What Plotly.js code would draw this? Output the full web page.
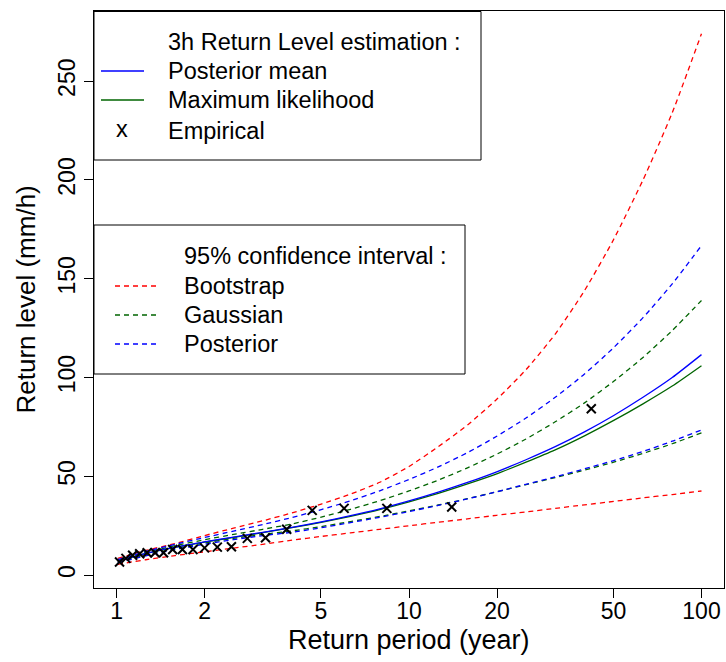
<!DOCTYPE html>
<html>
<head>
<meta charset="utf-8">
<script src="https://cdn.plot.ly/plotly-3.0.1.min.js"></script>
<style>html,body{margin:0;padding:0;background:#fff;}#plot{width:726px;height:662px;}</style>
</head>
<body>
<div id="plot"></div>
<script>
var returnPeriod = [1.01, 1.259, 1.585, 1.995, 2.512, 3.162, 3.981, 5.012, 6.31, 7.943, 10,
                    12.59, 15.85, 19.95, 25.12, 31.62, 39.81, 50.12, 63.1, 79.43, 100];
var posteriorMean  = [7, 11, 14.2, 16.8, 19.3, 21.7, 24.2, 27, 30.1, 33.6, 37.6,
                      42, 46.9, 52.3, 58.4, 65, 72.5, 80.8, 90, 100, 111.6];
var maxLikelihood  = [7, 11, 14.1, 16.7, 19.1, 21.5, 24, 26.7, 29.8, 33.2, 37.1,
                      41.4, 46.2, 51.3, 57.2, 63.4, 70.5, 78.3, 86.7, 95.7, 106];
var bootstrapUpper = [8.5, 12.5, 16, 20, 23.8, 27.5, 31.5, 36, 41, 47, 55,
                      65, 76, 89, 104, 122, 144, 170, 200, 234, 274];
var bootstrapLower = [5.5, 7.8, 9.9, 11.8, 13.7, 15.6, 17.7, 19.6, 21.4, 23.2, 25,
                      26.8, 28.5, 30.3, 32, 33.8, 35.6, 37.3, 39.1, 40.8, 42.6];
var gaussianUpper  = [7.5, 11.5, 14.9, 17.9, 20.6, 23.2, 25.9, 29.4, 33.3, 37.7, 42.6,
                      48.1, 54.3, 61.2, 68.9, 77.6, 87.2, 98.1, 110.2, 123.8, 139];
var gaussianLower  = [6.6, 10.2, 13.4, 16.2, 18.6, 20.6, 22.4, 24.6, 27.1, 29.7, 32.5,
                      35.5, 38.7, 42.2, 45.8, 49.4, 53.2, 57.2, 61.6, 66.5, 72];
var posteriorUpper = [7.8, 12, 15.6, 19, 22.3, 25.6, 29.2, 33.2, 37.6, 42.7, 48.4,
                      54.8, 62, 70.3, 79.5, 90, 101.8, 115.2, 130.3, 147.4, 166.8];
var posteriorLower = [6.3, 9.8, 13, 15.6, 18, 20, 21.7, 24, 26.6, 29.3, 32.2,
                      35.3, 38.6, 42.2, 46, 49.8, 53.8, 58, 62.6, 67.8, 73.5];

// Empirical return levels
var empPeriod = [42, 14, 8.4, 6, 4.667, 3.818, 3.231, 2.8, 2.471, 2.211, 2.0, 1.826, 1.68, 1.556, 1.448, 1.355, 1.273, 1.2, 1.135, 1.077, 1.024];
var empLevel  = [84.2, 34.5, 33.8, 33.8, 32.8, 23.2, 18.9, 18.6, 14.4, 14.2, 13.8, 13.0, 13.0, 13.0, 11.3, 11.3, 11.3, 10.8, 10.1, 8.5, 6.7];

var xTicks = [1, 2, 5, 10, 20, 50, 100];
var xTickText = ['1', '2', '5', '10', '20', '50', '100'];
var yTicks = [0, 50, 100, 150, 200, 250];
var yTickText = ['0', '50', '100', '150', '200', '250'];

var legend1Title = '3h Return Level estimation :';
var legend1Labels = ['Posterior mean', 'Maximum likelihood', 'Empirical'];
var legend2Title = '95% confidence interval :';
var legend2Labels = ['Bootstrap', 'Gaussian', 'Posterior'];

var RED = '#ff0000', BLUE = '#0000ff', GREEN = '#006400';
var FONT = 'Liberation Sans, Arial, Helvetica, sans-serif';
var DASH = '5px,4px';

function curve(y, color, dash) {
  return {x: returnPeriod, y: y, type: 'scatter', mode: 'lines',
    line: {color: color, width: 1.3, dash: dash, shape: 'spline', smoothing: 0.6},
    hoverinfo: 'skip', showlegend: false};
}
var data = [
  curve(bootstrapUpper, RED, DASH),
  curve(bootstrapLower, RED, DASH),
  curve(gaussianUpper, GREEN, DASH),
  curve(gaussianLower, GREEN, DASH),
  curve(posteriorUpper, BLUE, DASH),
  curve(posteriorLower, BLUE, DASH),
  curve(maxLikelihood, GREEN, 'solid'),
  curve(posteriorMean, BLUE, 'solid'),
  {x: empPeriod, y: empLevel, type: 'scatter', mode: 'markers',
   marker: {symbol: 'x-thin', size: 9, color: '#000', line: {color: '#000', width: 2}},
   hoverinfo: 'skip', showlegend: false}
];

// pixel -> paper helpers (plot area: x 94..724, y 11..588)
var L = 94, R = 724, T = 11, B = 588;
function px(x) { return (x - L) / (R - L); }
function py(y) { return (B - y) / (B - T); }

var shapes = [
  {type: 'rect', xref: 'paper', yref: 'paper', x0: px(94), x1: px(481), y0: py(160), y1: py(11.5), line: {color: '#000', width: 1}, fillcolor: 'rgba(0,0,0,0)'},
  {type: 'line', xref: 'paper', yref: 'paper', x0: px(101), x1: px(144), y0: py(71), y1: py(71), line: {color: BLUE, width: 1.3}},
  {type: 'line', xref: 'paper', yref: 'paper', x0: px(101), x1: px(144), y0: py(100), y1: py(100), line: {color: GREEN, width: 1.3}},
  {type: 'rect', xref: 'paper', yref: 'paper', x0: px(94), x1: px(465), y0: py(374), y1: py(225), line: {color: '#000', width: 1}, fillcolor: 'rgba(0,0,0,0)'},
  {type: 'line', xref: 'paper', yref: 'paper', x0: px(115), x1: px(156), y0: py(286), y1: py(286), line: {color: RED, width: 1.3, dash: DASH}},
  {type: 'line', xref: 'paper', yref: 'paper', x0: px(115), x1: px(156), y0: py(315), y1: py(315), line: {color: GREEN, width: 1.3, dash: DASH}},
  {type: 'line', xref: 'paper', yref: 'paper', x0: px(115), x1: px(156), y0: py(344), y1: py(344), line: {color: BLUE, width: 1.3, dash: DASH}}
];

var LF = {family: FONT, size: 23.5, color: '#000'};
function ann(text, x, y, opts) {
  var a = {text: text, xref: 'paper', yref: 'paper', x: px(x), y: py(y), xanchor: 'left', yanchor: 'middle', showarrow: false, font: LF};
  for (var k in opts) a[k] = opts[k];
  return a;
}
var annotations = [
  ann(legend1Title, 166, 42),
  ann(legend1Labels[0], 166, 71),
  ann(legend1Labels[1], 166, 100),
  ann(legend1Labels[2], 166, 131),
  ann('x', 122, 129, {xanchor: 'center'}),
  ann(legend2Title, 182, 256),
  ann(legend2Labels[0], 182, 286),
  ann(legend2Labels[1], 182, 315),
  ann(legend2Labels[2], 182, 344),
  ann('Return period (year)', 409, 640, {xanchor: 'center', font: {family: FONT, size: 27, color: '#000'}}),
  ann('Return level (mm/h)', 25, 299.5, {xanchor: 'center', textangle: -90, font: {family: FONT, size: 26, color: '#000'}})
];

var layout = {
  width: 726, height: 662,
  margin: {l: L, r: 726 - R, t: T, b: 662 - B, pad: 0},
  paper_bgcolor: '#fff', plot_bgcolor: '#fff',
  showlegend: false,
  font: {family: FONT, size: 23, color: '#000'},
  xaxis: {type: 'log', range: [-0.077, 2.077], tickmode: 'array', tickvals: xTicks, ticktext: xTickText,
    ticks: 'outside', ticklen: 9, tickwidth: 1, tickcolor: '#000', showline: true, mirror: true,
    linecolor: '#000', linewidth: 1, showgrid: false, zeroline: false, ticklabelstandoff: -7,
    tickfont: {family: FONT, size: 23, color: '#000'}},
  yaxis: {range: [-6.5, 285.5], tickmode: 'array', tickvals: yTicks, ticktext: yTickText,
    ticks: 'outside', ticklen: 9, tickwidth: 1, tickcolor: '#000', showline: true, mirror: true,
    linecolor: '#000', linewidth: 1, showgrid: false, zeroline: false, tickangle: -90,
    tickfont: {family: FONT, size: 23, color: '#000'}},
  shapes: shapes,
  annotations: annotations
};

Plotly.newPlot('plot', data, layout, {staticPlot: true, displayModeBar: false});
</script>
</body>
</html>
